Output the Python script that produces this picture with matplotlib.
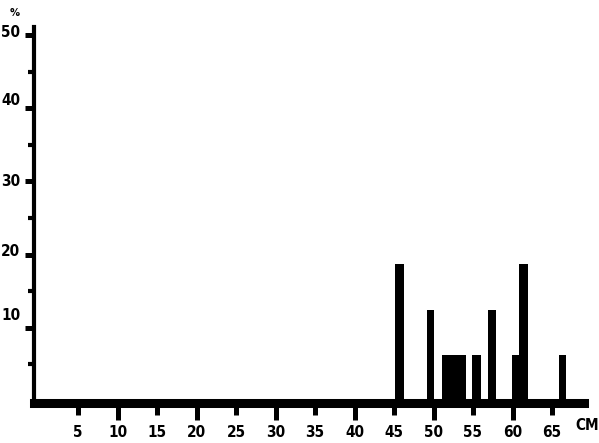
import matplotlib
matplotlib.use("Agg")
import matplotlib.pyplot as plt
import matplotlib.transforms as mtransforms
from matplotlib.ticker import FixedLocator

# Data (length in cm -> percentage)
bar_centers = [45.7, 49.6, 51.6, 52.6, 53.6, 55.45, 57.4, 60.4, 61.4, 66.3]
bar_widths = [1.15, 0.9, 1.0, 1.0, 1.05, 1.15, 1.0, 0.95, 1.05, 0.9]
bar_values = [18.75, 12.5, 6.25, 6.25, 6.25, 6.25, 12.5, 6.25, 18.75, 6.25]
x_ticks = [5, 10, 15, 20, 25, 30, 35, 40, 45, 50, 55, 60, 65]
x_long_ticks = [10, 20, 30, 40, 50, 60]
y_ticks = [10, 20, 30, 40, 50]
y_minor_ticks = [5, 15, 25, 35, 45]
# small upward shifts (pixels) of y labels, as in the original printout
y_label_shift_px = [12, 3, 0, 8, 2]

W, H = 599, 443
fig = plt.figure(figsize=(W / 100, H / 100), dpi=100)
left_px, right_px, top_px, bottom_px = 34, 583.5, 27, 402.5
ax = fig.add_axes([left_px / W, 1 - bottom_px / H, (right_px - left_px) / W, (bottom_px - top_px) / H])

ax.bar(bar_centers, bar_values, width=bar_widths, color="black", linewidth=0, zorder=1)

ax.set_xlim((left_px - 38.5) / 7.9, (right_px - 38.5) / 7.9)
ax.set_ylim((401 - bottom_px) / 7.32, (401 - top_px) / 7.32)

for s in ["top", "right"]:
    ax.spines[s].set_visible(False)
ax.spines["bottom"].set_linewidth(6.5)
ax.spines["left"].set_linewidth(3.0)
ax.spines["bottom"].set_capstyle("projecting")
ax.spines["left"].set_capstyle("projecting")

font = dict(family=["DejaVu Sans"], stretch="condensed", weight="bold", size=11)

ax.xaxis.remove_overlapping_locs = False
ax.set_xticks(x_ticks)
ax.set_xticklabels([str(t) for t in x_ticks], **font)
ax.xaxis.set_minor_locator(FixedLocator(x_long_ticks))
ax.tick_params(axis="x", which="major", length=8.6, width=3.6, pad=7.5, color="black")
ax.tick_params(axis="x", which="minor", length=12.2, width=3.6, color="black")

ax.set_yticks(y_ticks)
ax.set_yticklabels([])
ax.yaxis.set_minor_locator(FixedLocator(y_minor_ticks))
ax.tick_params(axis="y", which="major", length=6.5, width=3.6, color="black")
ax.tick_params(axis="y", which="minor", length=4.3, width=3.0, color="black")

blend = mtransforms.blended_transform_factory(fig.transFigure, ax.transData)
for val, shift in zip(y_ticks, y_label_shift_px):
    tr = blend + mtransforms.ScaledTranslation(0, shift / 100, fig.dpi_scale_trans)
    ax.text(20.5 / W, val, str(val), ha="right", va="center", transform=tr, **font)

fig.text(15 / W, 1 - 13 / H, "%", ha="center", va="center",
         family=["DejaVu Sans"], stretch="condensed", weight="bold", size=8)
fig.text(587 / W, 1 - 426 / H, "CM", ha="center", va="center", **font)

fig.savefig("out.png", dpi=100, facecolor="white")
